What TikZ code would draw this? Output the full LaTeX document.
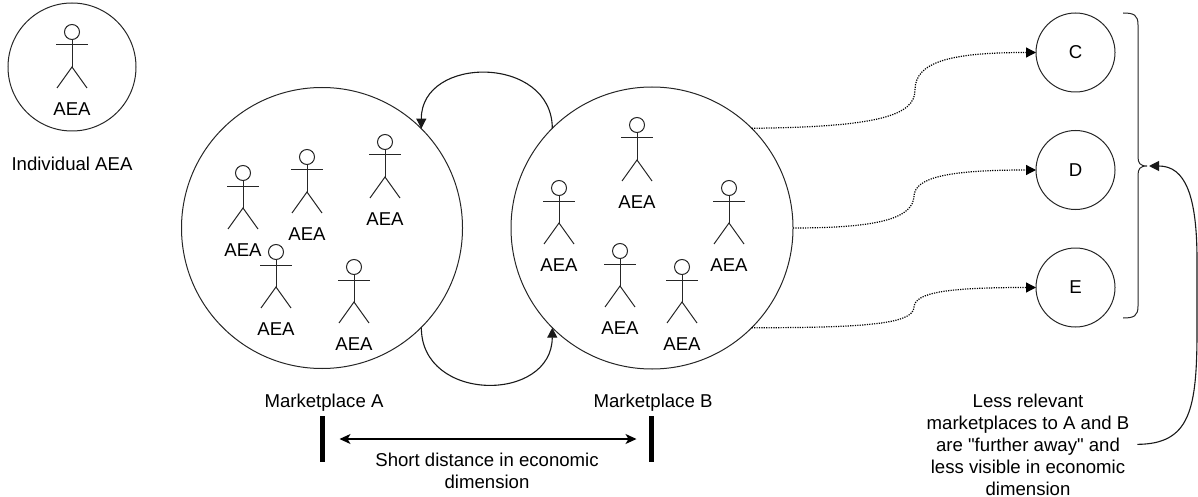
\documentclass[tikz,border=0pt]{standalone}
\usepackage{fontspec}
\setmainfont{Liberation Sans}[Ligatures=TeXOff]
\usetikzlibrary{arrows.meta}
\begin{document}
\begin{tikzpicture}[x=1pt,y=-1pt,
  every node/.style={font=\fontsize{18.6}{22}\selectfont},
  circ/.style={draw=black!85, circle, line width=1pt, inner sep=0pt, outer sep=0pt},
  lbl/.style={anchor=base, inner sep=0pt, outer sep=0pt, align=center},
  fig/.style={draw=black!85, line width=1pt},
  arr/.style={draw=black!90, line width=1.1pt, -{Triangle[length=10pt,width=10pt]}},
  dotarr/.style={draw=black, line width=1.2pt, dash pattern=on 1.2pt off 1.2pt, -{Triangle[length=10pt,width=10pt]}},
  dbl/.style={draw=black, line width=1.2pt, {Stealth[length=11pt,width=10pt,inset=3pt]}-{Stealth[length=11pt,width=10pt,inset=3pt]}},
  barbox/.style={fill=black, inner sep=0pt, outer sep=0pt, minimum width=5pt, minimum height=46pt},
  actor/.pic={
    \draw[fig] (0,0) circle (7.5);
    \draw[fig] (-16,13) -- (16,13);
    \draw[fig] (0,7.5) -- (0,35);
    \draw[fig] (-15,56) -- (0,35) -- (15,56);
    \node[lbl] (-t) at (0,83.5) {AEA};
  }
]
\useasboundingbox (0,0) rectangle (1198,497);

% individual AEA
\node[circ, minimum size=128pt] (I) at (72,67) {};
\pic (i0) at (72,32) {actor};
\node[lbl] (Ilab) at (72,171) {Individual AEA};

% marketplaces
\node[circ, minimum size=281pt] (A) at (322,228) {};
\node[circ, minimum size=282pt] (B) at (652,228) {};

\pic (a1) at (243,173) {actor};
\pic (a2) at (307,157) {actor};
\pic (a3) at (385,142) {actor};
\pic (a4) at (276,252) {actor};
\pic (a5) at (354,267) {actor};

\pic (b1) at (637,125) {actor};
\pic (b2) at (559,188) {actor};
\pic (b3) at (729,188) {actor};
\pic (b4) at (620,251) {actor};
\pic (b5) at (682,267) {actor};

\node[lbl] (Alab) at (324,407) {Marketplace A};
\node[lbl] (Blab) at (653,407) {Marketplace B};

% arrows between A and B
\draw[arr] (B.135) .. controls (552,55) and (421,55) .. (A.45);
\draw[arr] (A.-45) .. controls (421,403) and (552,403) .. (B.-135);

% distance bars
\node[barbox] (barA) at (322,439) {};
\node[barbox] (barB) at (651,439) {};
\draw[dbl, shorten <=15pt, shorten >=12pt] (barA) -- (barB);
\node[lbl] (dist) at (487,488.3) {Short distance in economic\\dimension};

% C D E
\node[circ, minimum size=79pt] (C) at (1075.5,52.5) {C};
\node[circ, minimum size=79pt] (D) at (1075.5,170) {D};
\node[circ, minimum size=79pt] (E) at (1075.5,287.5) {E};

\draw[dotarr] (B.45) .. controls (880,127) and (915,115) .. (915,90)
  .. controls (915,62) and (950,52.5) .. (C.west);
\draw[dotarr] (B.east) .. controls (880,228) and (913,218) .. (914,196)
  .. controls (915,177) and (950,170) .. (D.west);
\draw[dotarr] (B.-45) .. controls (880,328) and (913,322) .. (914,307)
  .. controls (915,292) and (950,287.5) .. (E.west);

% brace
\coordinate (brace) at (1147,166);
\draw[black!85, line width=1pt] (1123,13) .. controls (1134,13) and (1138,15) .. (1138,25)
  -- (1138,157) .. controls (1138,163) and (1140,166) .. (brace)
  .. controls (1140,166) and (1138,169) .. (1138,175)
  -- (1138,306) .. controls (1138,316) and (1134,318) .. (1123,318);

% explanation
\node[lbl] (L) at (1028,495) {Less relevant\\marketplaces to A and B\\are "further away" and\\less visible in economic\\dimension};
\draw[arr, shorten >=2pt] ([xshift=8pt]L.east) .. controls (1190,444) and (1197,410) .. (1197,330)
  -- (1197,260) .. controls (1197,195) and (1185,166) .. (brace);
\end{tikzpicture}
\end{document}
